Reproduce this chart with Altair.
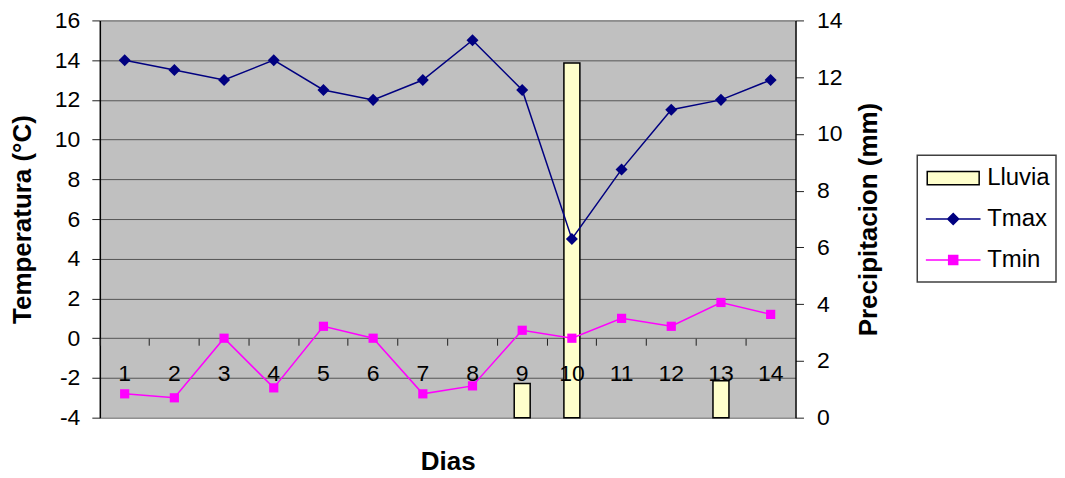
import altair as alt
import pandas as pd

dias = list(range(1, 15))
tmax = [14, 13.5, 13, 14, 12.5, 12, 13, 15, 12.5, 5, 8.5, 11.5, 12, 13]
tmin = [-2.8, -3.0, 0.0, -2.5, 0.6, 0.0, -2.8, -2.4, 0.4, 0.0, 1.0, 0.6, 1.8, 1.2]
lluvia = [0, 0, 0, 0, 0, 0, 0, 0, 1.2, 12.5, 0, 0, 1.3, 0]

series = ["Lluvia", "Tmax", "Tmin"]
fills = ["#FFFFCC", "#000080", "#FF00FF"]
strokes = ["#000000", "#000080", "#FF00FF"]

FONT = "Liberation Sans"
LBL = 23
TTL = 26

rain = pd.DataFrame({"dia": dias, "valor": lluvia, "serie": "Lluvia"})
rain = rain[rain["valor"] > 0]
temps = pd.concat([
    pd.DataFrame({"dia": dias, "valor": tmax, "serie": "Tmax"}),
    pd.DataFrame({"dia": dias, "valor": tmin, "serie": "Tmin"}),
])
legdf = pd.DataFrame({"serie": series})
framedf = pd.DataFrame({"k": [0]})

# legend glyph paths
RECT = "M-0.95,-0.24H0.95V0.24H-0.95Z"
TMAX_SYM = "M-1,0H1M0,-0.2L0.2,0L0,0.2L-0.2,0Z"
TMIN_SYM = "M-1,0H1M-0.165,-0.165H0.165V0.165H-0.165Z"

MINUS = "replace(datum.label, '\u2212', '-')"

color = alt.Color("serie:N", scale=alt.Scale(domain=series, range=fills), legend=None)

x_enc = alt.X(
    "dia:O",
    scale=alt.Scale(domain=dias, paddingInner=0, paddingOuter=0),
    axis=alt.Axis(
        title="Dias", offset=-79.6, labelAngle=0, bandPosition=0,
        domain=False, grid=False, tickSize=7, tickColor="#202020", tickWidth=1,
        labelFont=FONT, labelFontSize=LBL, labelColor="black", labelPadding=17,
        titleFont=FONT, titleFontSize=TTL, titleFontWeight="bold", titleColor="black",
        titleX=348.5, titleY=124, titleBaseline="middle", titleAlign="center",
        zindex=1,
    ),
)

bars = alt.Chart(rain).mark_bar(size=16, stroke="black", strokeWidth=1.5, opacity=1).encode(
    x=x_enc,
    y=alt.Y(
        "valor:Q",
        scale=alt.Scale(domain=[0, 14], nice=False, zero=True),
        axis=alt.Axis(
            orient="right", title="Precipitacion (mm)", values=list(range(0, 15, 2)),
            grid=False, domainColor="black", domainWidth=1.5, tickColor="#202020",
            tickSize=8, labelFont=FONT, labelFontSize=LBL, labelColor="black",
            labelPadding=13, titleFont=FONT, titleFontSize=TTL, titleFontWeight="bold",
            titleColor="black", titleAngle=270, titleX=73, titleY=199,
            titleBaseline="middle", titleAlign="center",
        ),
    ),
    color=color,
)

y_left = alt.Y(
    "valor:Q",
    scale=alt.Scale(domain=[-4, 16], nice=False, zero=False),
    axis=alt.Axis(
        orient="left", title="Temperatura (°C)", values=list(range(-4, 17, 2)),
        labelExpr=MINUS,
        grid=True, gridColor="#555555", gridWidth=1, domainColor="black",
        domainWidth=1.5, tickColor="#202020", tickSize=8, labelFont=FONT,
        labelFontSize=LBL, labelColor="black", labelPadding=12, titleFont=FONT,
        titleFontSize=TTL, titleFontWeight="bold", titleColor="black",
        titleAngle=270, titleX=-77, titleY=199, titleBaseline="middle",
        titleAlign="center",
    ),
)

lines = alt.Chart(temps).mark_line(strokeWidth=1.5).encode(
    x=x_enc, y=y_left, color=color, detail="serie:N"
)
pts_max = alt.Chart(temps).transform_filter("datum.serie === 'Tmax'").mark_point(
    filled=True, opacity=1, shape="diamond", size=145
).encode(x=x_enc, y=y_left, color=color)
pts_min = alt.Chart(temps).transform_filter("datum.serie === 'Tmin'").mark_point(
    filled=True, opacity=1, shape="square", size=85
).encode(x=x_enc, y=y_left, color=color)

# ---- legend (frame + glyphs + labels) ----
leg_y = alt.Y("serie:N", scale=alt.Scale(domain=series, type="point", range=[158, 240], padding=0), axis=None)

frame = alt.Chart(framedf).mark_rect(fill="white", stroke="#404040", strokeWidth=1.5).encode(
    x=alt.value(819), x2=alt.value(958), y=alt.value(135), y2=alt.value(262)
)
glyphs = alt.Chart(legdf).mark_point(filled=True, size=3000, strokeWidth=1.5, opacity=1).encode(
    x=alt.value(855), y=leg_y,
    fill=alt.Fill("serie:N", scale=alt.Scale(domain=series, range=fills), legend=None),
    stroke=alt.Stroke("serie:N", scale=alt.Scale(domain=series, range=strokes), legend=None),
    shape=alt.Shape("serie:N", scale=alt.Scale(domain=series, range=[RECT, TMAX_SYM, TMIN_SYM]), legend=None),
)
labels = alt.Chart(legdf).mark_text(
    align="left", baseline="middle", font=FONT, fontSize=24, color="black"
).encode(x=alt.value(889), y=leg_y, text="serie:N")

legend_layer = alt.layer(frame, glyphs, labels)

chart = alt.layer(
    bars, alt.layer(lines, pts_max, pts_min), legend_layer
).resolve_scale(y="independent").properties(
    width=697, height=398,
    autosize=alt.AutoSizeParams(type="none"),
    padding={"left": 92, "top": 12, "right": 262, "bottom": 58},
    background="white",
).configure_view(fill="#C0C0C0", stroke=None)

chart.save("out.html", embed_options={"renderer": "svg", "actions": False})
